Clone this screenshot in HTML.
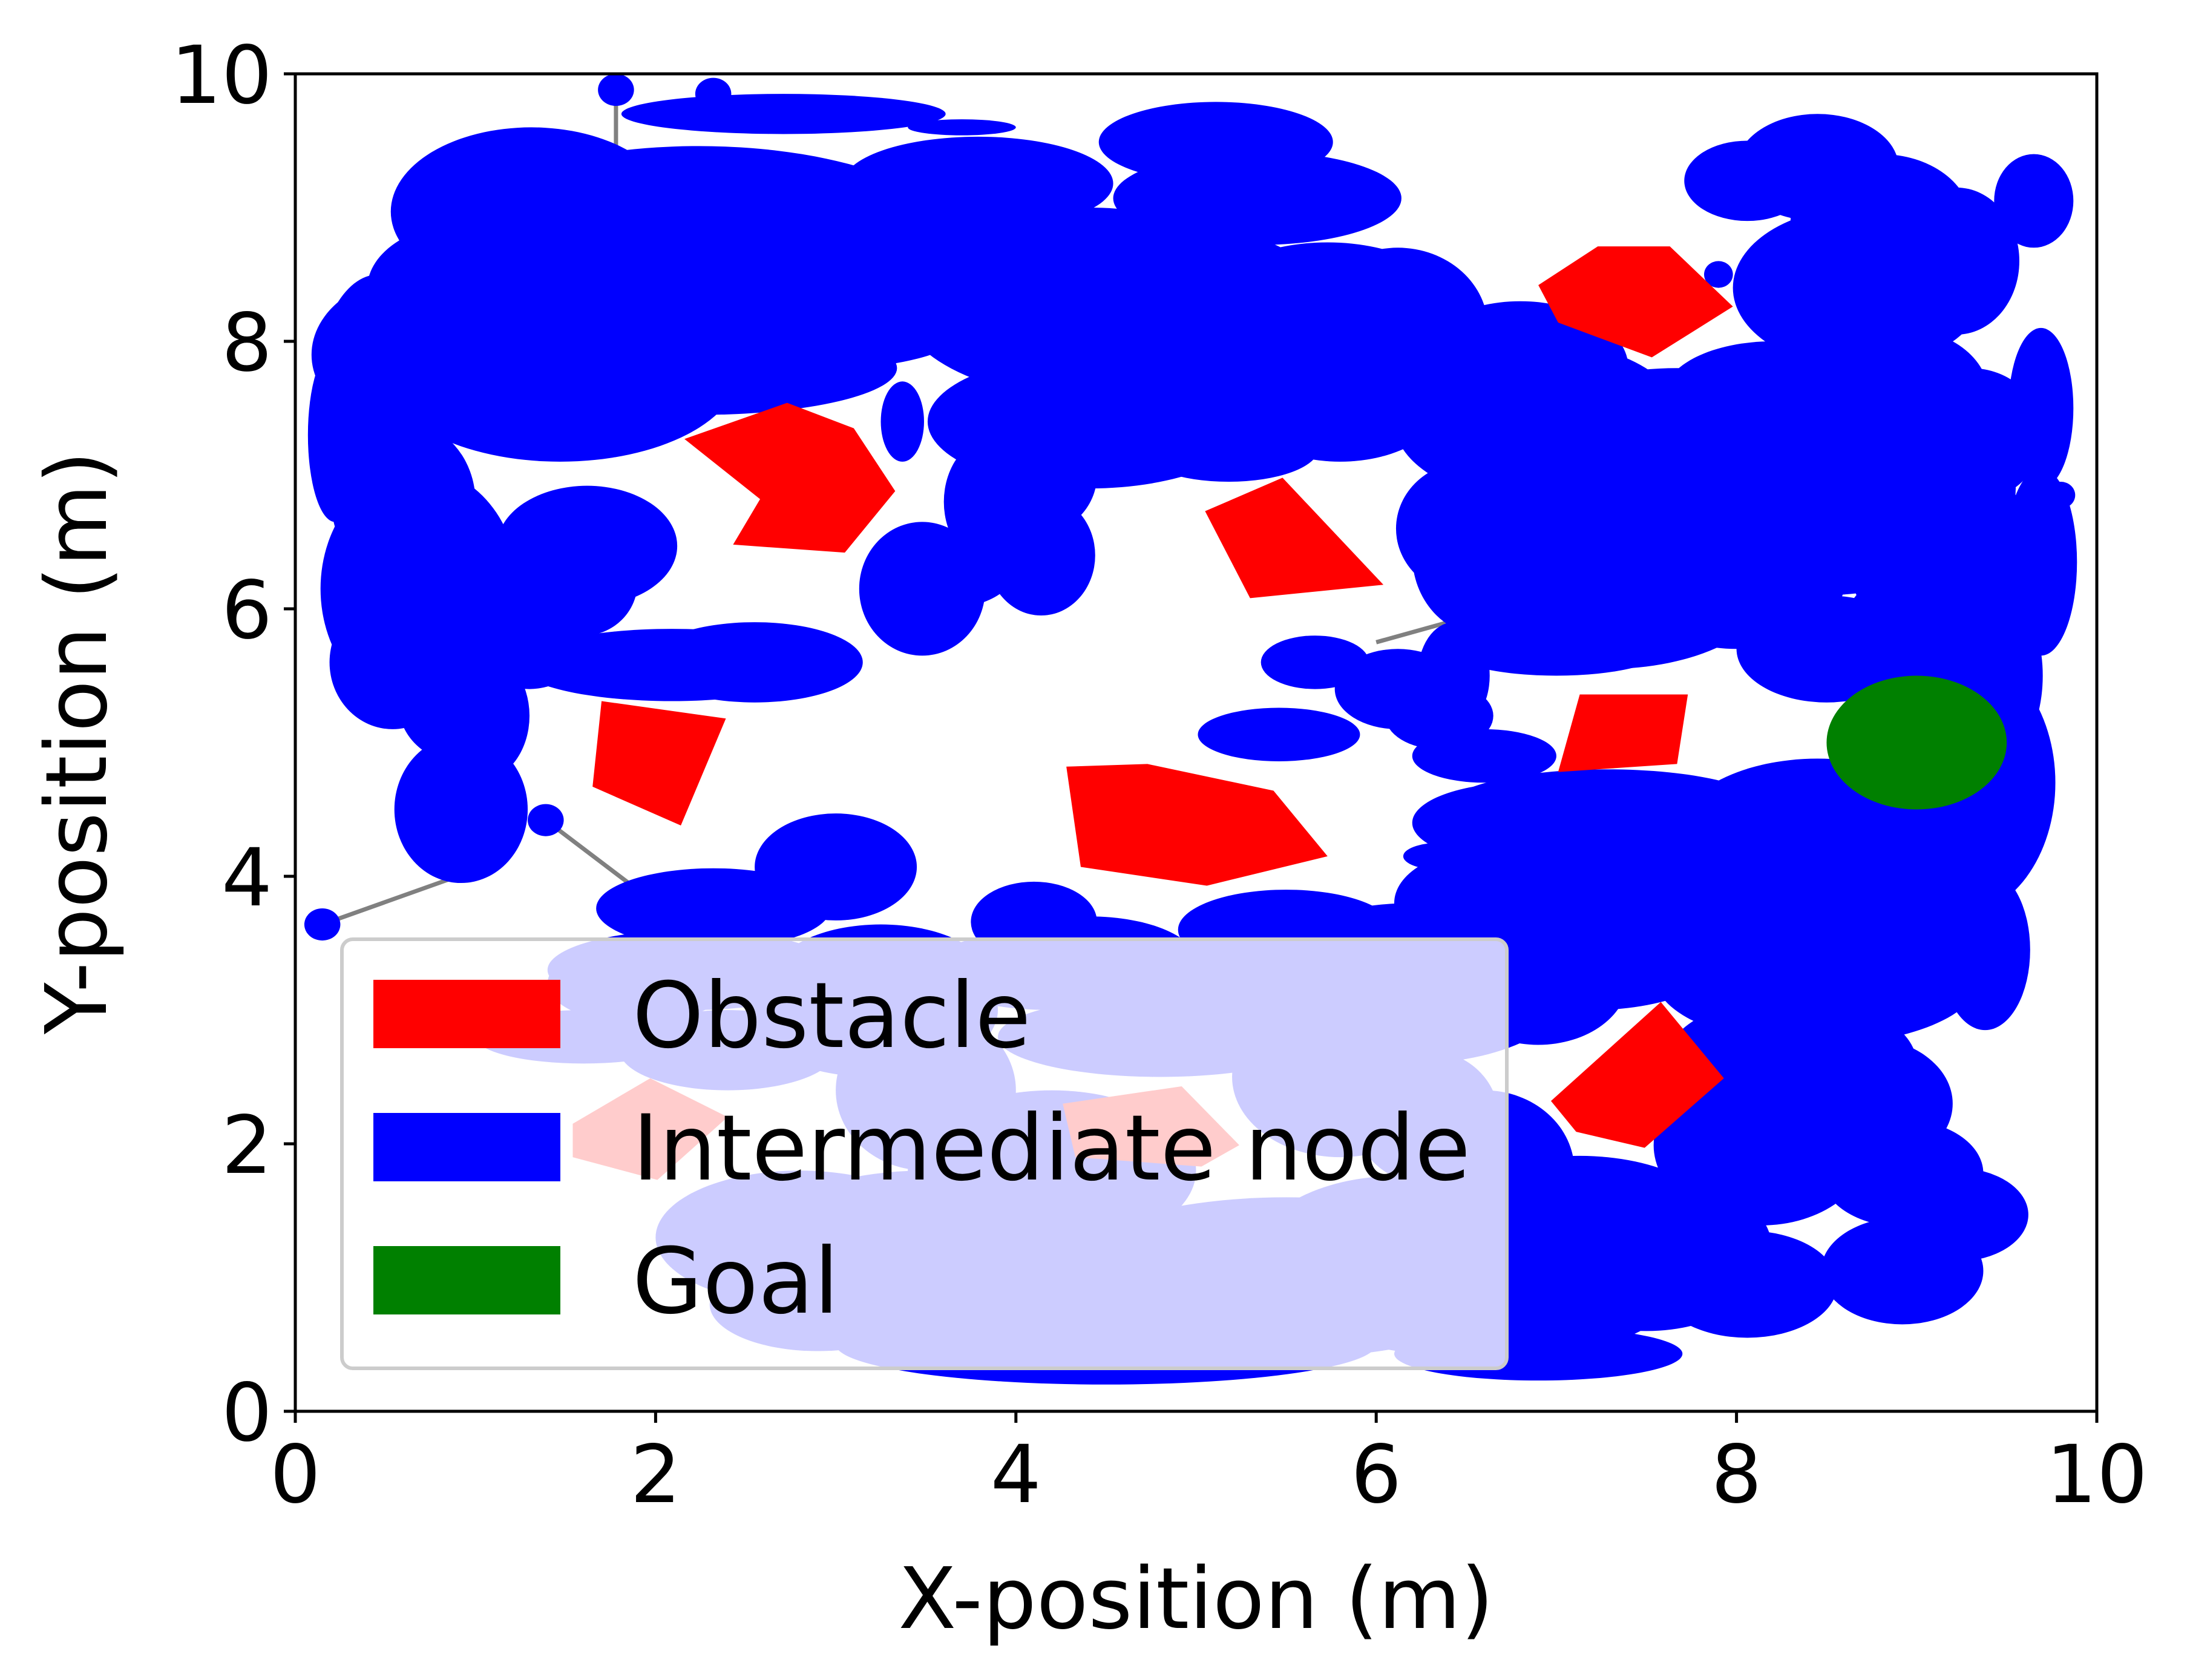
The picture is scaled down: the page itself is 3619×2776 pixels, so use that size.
<!DOCTYPE html>
<html><head><meta charset="utf-8"><style>
html,body{margin:0;padding:0;background:#fff;}
svg{display:block;font-family:"DejaVu Sans","Liberation Sans",sans-serif;}
</style></head><body>
<svg id="chart" width="3619" height="2776" viewBox="0 0 3619 2776" xmlns="http://www.w3.org/2000/svg">
<rect width="3619" height="2776" fill="#fff"/>
<defs><clipPath id="plotclip"><rect x="488" y="122" width="2977" height="2210"/></clipPath></defs>
<g id="plot" clip-path="url(#plotclip)"></g>
<g id="axes"></g>
<g id="legend">
 <rect x="565" y="1552" width="1925" height="709" rx="18" fill="#fff" fill-opacity="0.8" stroke="#cccccc" stroke-width="6"/>
 <rect x="617" y="1619" width="309" height="113" fill="#ff0000"/>
 <text x="1045" y="1730" font-size="150">Obstacle</text>
 <rect x="617" y="1839" width="309" height="113" fill="#0000ff"/>
 <text x="1045" y="1949" font-size="150" textLength="1385" lengthAdjust="spacingAndGlyphs">Intermediate node</text>
 <rect x="617" y="2059" width="309" height="113" fill="#008000"/>
 <text x="1045" y="2169" font-size="150">Goal</text>
</g>
</svg>
<script>
// data arrays
const xTicks = [0, 2, 4, 6, 8, 10];
const yTicks = [0, 2, 4, 6, 8, 10];
const nodeX  = [1.31,2.24,2.71,3.79,0.46,0.22,0.69,1.47,2.24,3.0,0.69,1.62,0.54,0.92,0.92,2.09,2.55,5.11,5.34,4.57,5.73,6.12,3.79,4.41,5.18,4.1,3.48,4.14,3.37,8.45,8.06,9.65,8.68,9.22,9.69,9.69,6.9,7.67,8.45,6.51,7.28,9.07,9.22,8.45,7.28,6.43,5.66,5.46,6.12,6.35,6.35,5.73,6.9,8.45,9.38,8.14,8.92,9.22,8.92,8.06,7.13,6.12,4.57,6.9,6.28,3.0,2.32,4.1,4.41,3.25,0.15,1.39,1.78,2.32,3.7,7.9,9.8,
 4.5,5.5,3.5,2.8,2.9,4.2,3.5,3.2,2.2,4.8,5.8,6.2,6.6,7.5,6.6,7.2,8.3,8.7,9.0,7.9,6.6,7.4,8.8,9.3,9.1,8.5,8.0,7.0,8.9,9.3,8.2,6.8,5.8,5.0,4.4,3.0,1.0,0.6,1.3,1.6,1.0,0.5,6.6,4.2,1.6,2.4,6.8,5.5,1.9,8.8,6.6,5.4,3.9,3.6];
const nodeY  = [8.97,8.66,9.7,9.18,7.6,7.3,7.9,7.8,7.8,8.2,6.15,6.47,5.6,5.3,4.5,5.58,5.6,9.49,9.07,8.24,8.24,8.1,8.45,7.4,7.2,7.0,6.15,6.4,7.4,9.3,9.2,9.05,8.4,8.6,7.5,6.35,7.4,7.1,6.9,6.6,6.15,5.75,4.7,4.28,4.5,5.5,5.6,5.06,5.4,5.2,4.15,3.24,3.24,3.24,3.45,1.99,1.78,1.47,1.05,0.95,1.36,1.16,0.64,0.43,2.2,4.07,3.76,3.66,3.35,3.24,3.64,4.42,9.88,9.85,9.6,8.5,6.85,
 0.5,1.0,1.2,1.3,0.8,1.8,2.4,3.0,3.3,2.8,2.5,3.2,1.8,1.2,0.8,3.5,2.6,2.3,3.8,3.9,3.8,4.2,4.3,5.5,6.5,5.7,6.2,5.7,7.6,7.3,7.6,7.8,7.6,8.0,8.6,8.8,8.4,6.8,6.0,6.2,5.2,6.0,4.9,3.3,2.8,2.7,4.4,3.6,3.2,8.9,6.4,7.3,6.8,6.3];
const nodeRX = [0.78,1.5,0.9,0.75,0.35,0.15,0.6,1.0,1.1,0.8,0.55,0.5,0.35,0.35,0.37,0.85,0.6,0.65,0.8,1.2,0.7,0.5,0.7,0.9,0.5,0.35,0.35,0.3,0.12,0.45,0.35,0.22,0.7,0.35,0.18,0.2,0.8,1.0,1.1,0.4,0.9,0.5,0.55,0.8,0.9,0.2,0.3,0.45,0.35,0.3,0.2,1.0,0.5,0.9,0.25,0.6,0.45,0.4,0.45,0.5,0.8,0.8,1.2,0.8,0.4,0.45,0.65,0.35,0.6,0.6,0.1,0.1,0.1,0.1,0.3,0.08,0.08,
 1.5,1.3,1.0,0.8,0.6,0.8,0.5,0.7,0.8,0.9,0.6,0.9,0.5,0.7,1.0,0.8,0.7,0.5,0.5,0.8,0.5,0.8,0.6,0.4,0.5,0.5,0.6,0.6,0.5,0.4,0.6,0.6,0.6,0.6,0.8,0.7,0.6,0.4,0.4,0.3,0.3,0.3,0.4,0.7,0.6,0.6,0.6,0.6,0.5,0.5,0.4,0.5,0.3,0.4];
const nodeRY = [0.63,0.8,0.15,0.35,0.9,0.65,0.6,0.7,0.35,0.4,0.9,0.45,0.5,0.45,0.55,0.27,0.3,0.3,0.35,0.7,0.5,0.6,0.4,0.5,0.25,0.45,0.5,0.45,0.3,0.4,0.3,0.35,0.6,0.55,0.6,0.7,0.6,0.7,0.8,0.5,0.6,0.6,1.0,0.6,0.3,0.4,0.2,0.2,0.3,0.25,0.1,0.4,0.5,0.5,0.6,0.6,0.4,0.35,0.4,0.4,0.55,0.6,0.35,0.2,0.5,0.4,0.3,0.3,0.35,0.4,0.12,0.12,0.12,0.12,0.06,0.1,0.1,
 0.3,0.6,0.6,0.5,0.35,0.6,0.6,0.5,0.3,0.3,0.6,0.6,0.6,0.6,0.4,0.5,0.5,0.5,0.5,0.5,0.4,0.4,0.6,0.8,0.8,0.4,0.5,0.2,0.5,0.5,0.4,0.5,0.5,0.5,0.4,0.5,0.5,0.6,0.6,0.4,0.5,0.8,0.2,0.3,0.2,0.3,0.3,0.3,0.3,0.5,0.6,0.2,0.5,0.3];
const edgeX1 = [0.15,1.39,1.78,6.0,8.7];
const edgeY1 = [3.64,4.42,9.88,5.75,1.6];
const edgeX2 = [0.9,1.85,1.78,6.4,8.9];
const edgeY2 = [4.0,3.95,9.4,5.9,1.35];
const obstacles = [
 [[6.9,8.42],[7.23,8.71],[7.63,8.71],[7.98,8.26],[7.53,7.88],[7.01,8.14]],
 [[2.16,7.27],[2.73,7.54],[3.1,7.35],[3.33,6.88],[3.05,6.42],[2.43,6.48],[2.58,6.82]],
 [[5.05,6.73],[5.48,6.98],[6.04,6.18],[5.3,6.08]],
 [[1.7,5.31],[2.39,5.18],[2.14,4.38],[1.65,4.67]],
 [[4.28,4.82],[4.73,4.84],[5.43,4.64],[5.73,4.15],[5.06,3.93],[4.36,4.07]],
 [[7.13,5.36],[7.73,5.36],[7.67,4.84],[7.01,4.78]],
 [[6.97,2.32],[7.58,3.06],[7.93,2.49],[7.49,1.97],[7.11,2.09]],
 [[1.54,2.15],[1.97,2.49],[2.4,2.2],[2.01,1.73],[1.54,1.9]],
 [[4.26,2.3],[4.92,2.43],[5.24,1.99],[5.03,1.83],[4.33,1.9]]
];
const goalX = [9.0], goalY = [5.0], goalR = [0.5];

const X0=488, SX=297.7, Y0=2332, SY=221;
const px = x => X0 + SX*x;
const py = y => Y0 - SY*y;
const NS = "http://www.w3.org/2000/svg";
const plot = document.getElementById('plot');
const axes = document.getElementById('axes');
function mk(tag, attrs, parent){const e=document.createElementNS(NS,tag);for(const k in attrs)e.setAttribute(k,attrs[k]);parent.appendChild(e);return e;}

for(let i=0;i<edgeX1.length;i++){
 const l=mk('line',{x1:px(edgeX1[i]),y1:py(edgeY1[i]),x2:px(edgeX2[i]),y2:py(edgeY2[i]),stroke:'#808080','stroke-width':7},plot);
 
 
}
for(let i=0;i<nodeX.length;i++){
 const e=mk('ellipse',{cx:px(nodeX[i]),cy:py(nodeY[i]),rx:nodeRX[i]*SX,ry:nodeRY[i]*SY,fill:'#0000ff'},plot);
 
 
}
obstacles.forEach(poly=>{
 const p=mk('polygon',{points:poly.map(q=>px(q[0])+','+py(q[1])).join(' '),fill:'#ff0000'},plot);
 
 
});
for(let i=0;i<goalX.length;i++){
 const g=mk('ellipse',{cx:px(goalX[i]),cy:py(goalY[i]),rx:goalR[i]*SX,ry:goalR[i]*SY,fill:'#008000'},plot);
 
 
}
const fr=mk('rect',{x:px(0),y:py(10),width:SX*10,height:SY*10,fill:'none',stroke:'#000','stroke-width':5},axes);


xTicks.forEach(t=>{
 const l=mk('line',{x1:px(t),y1:Y0,x2:px(t),y2:Y0+19,stroke:'#000','stroke-width':5},axes);
 
 
 const tx=mk('text',{x:px(t),y:Y0+150,'font-size':132,'text-anchor':'middle'},axes);
 tx.textContent=t;
 
 
});
yTicks.forEach(t=>{
 const l=mk('line',{x1:X0-19,y1:py(t),x2:X0,y2:py(t),stroke:'#000','stroke-width':5},axes);
 
 
 const tx=mk('text',{x:X0-38,y:py(t)+48,'font-size':132,'text-anchor':'end'},axes);
 tx.textContent=t;
 
 
});
const xl=mk('text',{x:px(5),y:2690,'font-size':140,'text-anchor':'middle'},axes);
xl.textContent='X-position (m)';


const yl=mk('text',{x:0,y:0,'font-size':140,'text-anchor':'middle',transform:'translate(175,'+py(5)+') rotate(-90)'},axes);
yl.textContent='Y-position (m)';


</script>
</body></html>
